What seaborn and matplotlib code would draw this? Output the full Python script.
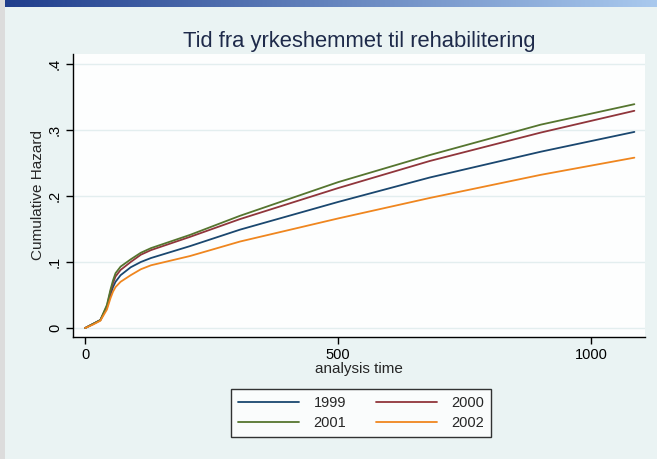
import matplotlib
matplotlib.use("Agg")
import matplotlib.pyplot as plt
from matplotlib.patches import Rectangle
import numpy as np
import pandas as pd
import seaborn as sns

# Values (cumulative hazard by year).
time = [0, 15, 30, 43, 50, 55, 60, 70, 90, 110, 130, 207, 306, 500, 681, 900, 1085]
haz_1999 = [0, .006, .012, .031, .050, .062, .070, .080, .092, .100, .106, .124, .149, .191, .228, .267, .297]
haz_2000 = [0, .006, .012, .033, .055, .068, .078, .088, .100, .111, .118, .138, .165, .212, .253, .296, .329]
haz_2001 = [0, .006, .012, .035, .058, .072, .083, .093, .104, .114, .121, .141, .170, .221, .262, .308, .339]
haz_2002 = [0, .005, .011, .028, .045, .055, .062, .070, .080, .089, .095, .109, .131, .166, .197, .232, .258]
years = ["1999", "2000", "2001", "2002"]
x_ticks = [0, 500, 1000]
y_ticks = [0, 0.1, 0.2, 0.3, 0.4]
y_tick_labels = ["0", ".1", ".2", ".3", ".4"]

colors = {"1999": "#1a476f", "2000": "#90353b", "2001": "#55752f", "2002": "#ef861f"}

sns.set_theme(style="white")
plt.rcParams["font.family"] = ["Liberation Sans", "DejaVu Sans"]

df = pd.concat(
    [
        pd.DataFrame({"time": time, "hazard": h, "year": y})
        for y, h in zip(years, [haz_1999, haz_2000, haz_2001, haz_2002])
    ],
    ignore_index=True,
)

bg = "#eaf3f3"
fig = plt.figure(figsize=(6.57, 4.59), dpi=100, facecolor=bg)
ax = fig.add_axes([73 / 657, 1 - 337 / 459, 572 / 657, 283 / 459])
ax.set_facecolor("#fdfefe")

sns.lineplot(
    data=df, x="time", y="hazard", hue="year", palette=colors,
    linewidth=1.3, ax=ax, legend=False,
)

ax.set_xlim(-24, 1106)
ax.set_ylim(-0.0136, 0.415)
ax.set_xticks(x_ticks)
ax.set_yticks(y_ticks)
ax.set_yticklabels(y_tick_labels, rotation=90, va="center")
ax.tick_params(axis="both", direction="out", length=5, width=1, colors="black",
               labelsize=10.5, pad=3, left=True, bottom=True)
ax.yaxis.grid(True, color="#e3eeef", linewidth=1.0)
ax.xaxis.grid(False)
for side in ["top", "right"]:
    ax.spines[side].set_visible(False)
for side in ["left", "bottom"]:
    ax.spines[side].set_color("black")
    ax.spines[side].set_linewidth(1.0)

ax.set_xlabel("analysis time", fontsize=11, labelpad=0)
ax.set_ylabel("Cumulative Hazard", fontsize=11, labelpad=2)
ax.set_title("Tid fra yrkeshemmet til rehabilitering", fontsize=15.8,
             color="#1e2a4a", pad=5)

# legend: Stata fills rows first, matplotlib fills columns first
order = ["1999", "2001", "2000", "2002"]
handles = [plt.Line2D([], [], color=colors[y], linewidth=1.3) for y in order]
leg = fig.legend(handles, order, loc="center", bbox_to_anchor=(361 / 657, 1 - 413 / 459),
                 ncol=2, frameon=True, fontsize=10.5, handlelength=4.2,
                 handletextpad=1.0, columnspacing=2.0, fancybox=False,
                 borderpad=0.45, labelspacing=0.45)
leg.get_frame().set_edgecolor("black")
leg.get_frame().set_linewidth(1.0)
leg.get_frame().set_facecolor("white")

# screenshot window edges
top = fig.add_axes([0, 1 - 7 / 459, 1, 7 / 459])
top.imshow(np.linspace(0, 1, 256).reshape(1, -1), aspect="auto",
           cmap=matplotlib.colors.LinearSegmentedColormap.from_list("bar", ["#1f3d8c", "#a9c9ee"]))
top.set_axis_off()
fig.patches.append(Rectangle((0, 0), 5 / 657, 1, transform=fig.transFigure,
                             facecolor="#dcdcdc", edgecolor="none"))

fig.savefig("out.png", dpi=100, facecolor=bg)
